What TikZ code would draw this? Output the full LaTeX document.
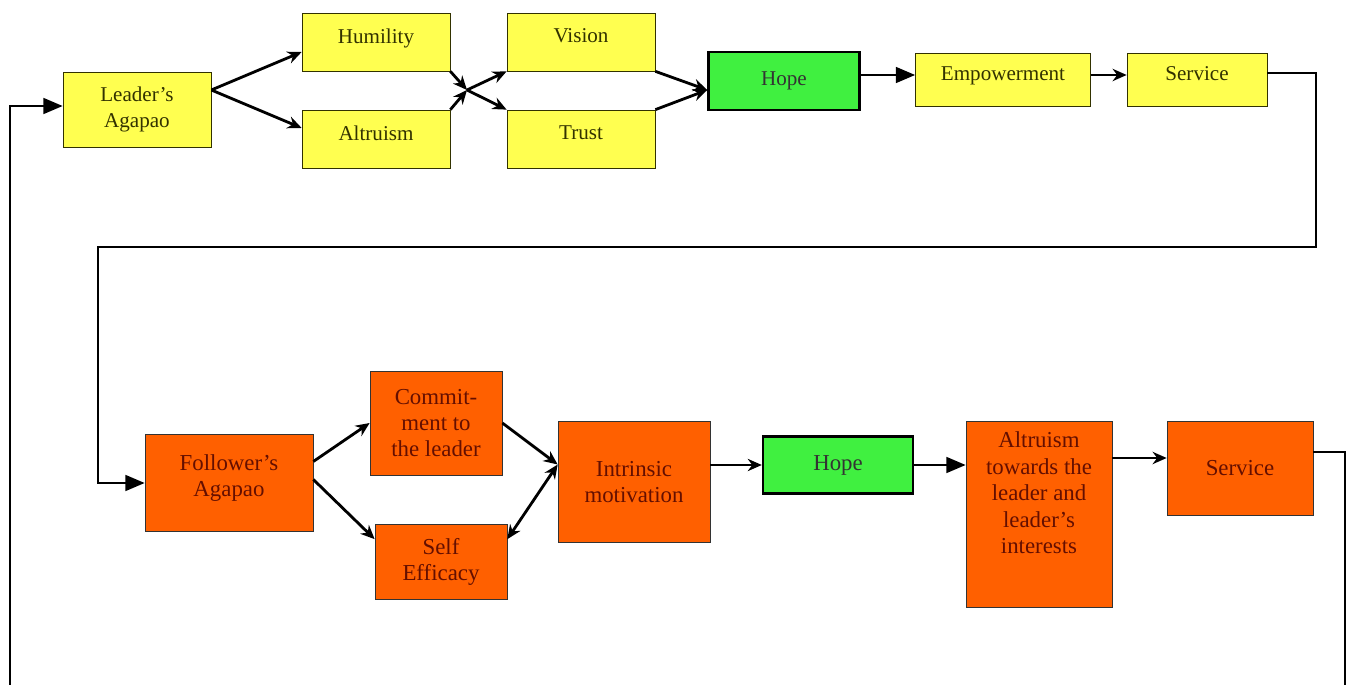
\documentclass[tikz,border=0pt]{standalone}
\usepackage{fontspec}
\setmainfont{Liberation Serif}
\usepackage{tikz}
\usetikzlibrary{arrows.meta}
\usepackage[svgnames]{xcolor}
\definecolor{lemon}{RGB}{255,255,80}
\definecolor{tangerine}{RGB}{255,96,0}
\definecolor{leaf}{RGB}{64,240,64}
\definecolor{olive}{RGB}{50,50,0}
\definecolor{rust}{RGB}{100,15,0}

\begin{document}
\begin{tikzpicture}[x=0.02cm, y=-0.02cm, >={Stealth[length=8pt,width=7pt]},
    ybox/.style={rectangle, draw=olive, fill=lemon, thin, inner sep=2pt, align=center, text=olive, text depth=0.25cm, font=\fontsize{12}{13}\selectfont},
    obox/.style={rectangle, draw=black!80, fill=tangerine, thin, inner sep=2pt, align=center, text=rust, font=\fontsize{13}{15}\selectfont},
    gbox/.style={rectangle, draw=black, fill=leaf, line width=1.4pt, inner sep=2pt, align=center, text=black!80, font=\fontsize{13}{15}\selectfont},
    edge/.style={->, line width=1.6pt, draw=black},
    loop/.style={-{Triangle[length=11pt,width=9pt]}, line width=1.3pt, draw=black}]

\useasboundingbox (0,0) rectangle (1352,685);

\node [ybox, minimum width=2.96cm, minimum height=1.5cm, text depth=0.12cm, font=\fontsize{12}{15}\selectfont] (lead) at (137,110) {Leader's\\Agapao};
\node [ybox, minimum width=2.96cm, minimum height=1.16cm] (hum) at (376,42) {Humility};
\node [ybox, minimum width=2.96cm, minimum height=1.16cm] (alt) at (376,139) {Altruism};
\node [ybox, minimum width=2.96cm, minimum height=1.16cm] (vis) at (581,42) {Vision};
\node [ybox, minimum width=2.96cm, minimum height=1.16cm] (tru) at (581,139) {Trust};
\node [gbox, minimum width=3.02cm, minimum height=1.16cm, font=\fontsize{12}{13}\selectfont] (hope) at (784,81) {Hope};
\node [ybox, minimum width=3.5cm, minimum height=1.06cm] (emp) at (1003,80) {Empowerment};
\node [ybox, minimum width=2.8cm, minimum height=1.06cm] (serv) at (1197,80) {Service};

\node [obox, minimum width=3.36cm, minimum height=1.94cm, text depth=0.3cm] (fol) at (229,483) {Follower's\\Agapao};
\node [obox, minimum width=2.64cm, minimum height=2.08cm] (com) at (436,423) {Commit-\\ment to\\the leader};
\node [obox, minimum width=2.64cm, minimum height=1.5cm] (self) at (441,562) {Self\\Efficacy};
\node [obox, minimum width=3.04cm, minimum height=2.42cm] (intr) at (634,482) {Intrinsic\\motivation};
\node [gbox, minimum width=3.0cm, minimum height=1.14cm] (hope2) at (838,465) {Hope};
\node [obox, minimum width=2.92cm, minimum height=3.72cm, text depth=0.85cm] (altr) at (1039,514) {Altruism\\towards the\\leader and\\leader's\\interests};
\node [obox, minimum width=2.92cm, minimum height=1.88cm] (serv2) at (1240,468) {Service};

\coordinate (cross) at (467,90);
\coordinate (lft) at (10,685);
\coordinate (rgt) at (1345,685);

\draw [edge] ([yshift=0.4cm]lead.east) -- ([yshift=-0.2cm]hum.west);
\draw [edge] ([yshift=0.4cm]lead.east) -- ([yshift=0.22cm]alt.west);
\draw [edge] (hum.south east) -- (cross);
\draw [edge] (alt.north east) -- (cross);
\draw [edge] (cross) -- (vis.south west);
\draw [edge] (cross) -- (tru.north west);
\draw [edge] (vis.south east) -- ([yshift=-0.18cm]hope.west);
\draw [edge] (tru.north east) -- ([yshift=-0.18cm]hope.west);
\draw [loop] ([yshift=0.12cm]hope.east) -- ([yshift=0.12cm]hope.east -| emp.west);
\draw [edge] ([yshift=0.1cm]emp.east) -- ([yshift=0.1cm]emp.east -| serv.west);

\draw [loop] ([yshift=0.14cm]serv.east) -| (1316,247) -- (98,247) |- (fol.west);
\draw [loop] (lft) |- ([yshift=0.08cm]lead.west);

\draw [edge] ([yshift=0.43cm]fol.east) -- (com.west);
\draw [edge] ([yshift=0.07cm]fol.east) -- ([yshift=-0.3cm]self.north west);
\draw [edge] (com.east) -- ([yshift=0.35cm]intr.west);
\draw [edge, <->] ([yshift=0.35cm]intr.west) -- ([yshift=-0.3cm]self.north east);
\draw [edge] (intr.east |- hope2.west) -- (hope2.west);
\draw [loop] (hope2.east) -- (altr.west |- hope2.east);
\draw [edge] ([yshift=0.2cm]serv2.west -| altr.east) -- ([yshift=0.2cm]serv2.west);
\draw [loop, -] ([yshift=0.32cm]serv2.east) -| (rgt);

\end{tikzpicture}
\end{document}
